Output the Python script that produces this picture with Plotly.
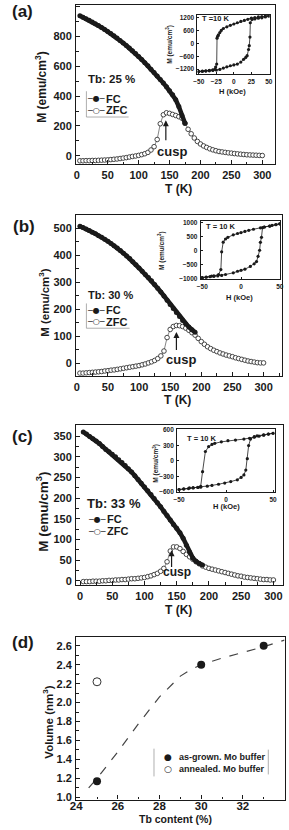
import plotly.graph_objects as go

# ---------------- data ----------------
T_GRID = [5, 10, 15, 20, 25, 30, 35, 40, 45, 50, 55, 60, 65, 70, 75, 80, 85, 90, 95, 100,
          105, 110, 115, 120, 125, 130, 135, 140, 145, 150, 155, 160, 165, 170, 175, 180, 185, 190, 195, 200,
          205, 210, 215, 220, 225, 230, 235, 240, 245, 250, 255, 260, 265, 270, 275, 280, 285, 290, 295, 300]

# (a) Tb 25 %
FC_A = [935, 925, 915, 905, 893, 882, 870, 857, 844, 830, 816, 801, 786, 770, 754, 737, 720, 702, 683, 663,
        643, 622, 601, 579, 556, 533, 510, 486, 461, 435, 408, 375, 330, 270, 218]
ZFC_A = [-32, -32, -31, -31, -30, -30, -29, -28, -27, -26, -24, -22, -20, -17, -14, -11, -7, -3, 0, 4,
         9, 15, 24, 40, 62, 110, 215, 275, 288, 284, 277, 270, 262, 252, 218, 178, 148, 120, 97, 80,
         67, 57, 48, 41, 35, 30, 27, 24, 21, 19, 16, 14, 12, 10, 8, 7, 6, 5, 4, 3]
# (b) Tb 30 %
FC_B = [508, 503, 498, 492, 486, 480, 473, 467, 460, 452, 444, 436, 427, 418, 408, 398, 388, 376, 365, 353,
        341, 329, 318, 306, 292, 278, 264, 249, 233, 218, 203, 188, 173, 158, 145, 134, 124, 115]
ZFC_B = [-37, -37, -36, -35, -34, -33, -32, -31, -29, -28, -26, -25, -23, -21, -19, -17, -15, -13, -11, -9,
         -6, -3, 1, 5, 10, 17, 27, 45, 95, 125, 136, 140, 139, 136, 130, 122, 113, 104, 92, 80,
         70, 61, 54, 48, 43, 38, 34, 30, 27, 24, 20, 17, 14, 11, 8, 6, 4, 2, 1, 1]
# (c) Tb 33 %
FC_C = [360, 355, 349, 344, 338, 332, 325, 318, 312, 306, 300, 293, 286, 279, 271, 263, 254, 245, 236, 227,
        218, 209, 199, 189, 179, 168, 158, 147, 136, 127, 116, 103, 86, 69, 55, 47, 42, 38]
ZFC_C = [-2, -2, -2, -1, -1, -1, 0, 0, 1, 1, 2, 2, 3, 3, 4, 5, 5, 6, 7, 8,
         10, 12, 15, 18, 23, 30, 46, 72, 82, 82, 78, 71, 64, 58, 52, 46, 41, 36, 33, 30,
         28, 26, 24, 22, 20, 18, 16, 14, 12, 11, 9, 8, 7, 6, 5, 4, 3, 3, 2, 2]

# hysteresis loops at 10 K (H in kOe, M in emu/cm3)
HA_DOWN = [50, 45, 40, 35, 30, 25, 20, 15, 10, 5, 0, -5, -10, -15, -18, -20, -22, -23, -24, -24.5, -26, -27, -30, -35, -40, -45, -50]
MA_DOWN = [1290, 1275, 1260, 1240, 1215, 1185, 1130, 1080, 1030, 970, 910, 850, 780, 700, 610, 510, 400, 340, 250, -960, -1100, -1200, -1230, -1255, -1275, -1295, -1310]
HA_UP = [-50, -45, -40, -35, -30, -25, -20, -15, -10, -5, 0, 5, 10, 14, 17, 19, 21, 22, 23, 23.5, 26, 30, 35, 40, 45, 50]
MA_UP = [-1310, -1300, -1290, -1275, -1260, -1240, -1210, -1150, -1090, -1040, -1000, -960, -870, -740, -650, -570, -280, -100, 300, 970, 1120, 1150, 1180, 1200, 1240, 1285]

HB_DOWN = [50, 45, 40, 37, 30, 25, 16, 10, 5, 0, -4.5, -10, -17, -20, -23, -25, -26, -29, -35, -38, -45, -50]
MB_DOWN = [965, 940, 905, 884, 850, 820, 769, 730, 690, 650, 618, 570, 480, 420, 306, -40, -676, -850, -900, -908, -940, -965]
HB_UP = [-50, -45, -40, -35, -30, -25, -20, -10, -4.5, 0, 5, 12, 17, 20, 22, 24, 25, 26.4, 27.7, 30, 37, 45, 50]
MB_UP = [-965, -950, -930, -915, -900, -884, -850, -790, -734, -700, -660, -560, -470, -387, -200, 18, 300, 480, 826, 850, 884, 930, 965]

HC_DOWN = [50, 45, 40, 35, 30, 25, 19, 10, 2, -5, -12, -15, -18.5, -22, -25, -27, -30, -35, -39, -45, -50]
MC_DOWN = [537, 520, 499, 480, 460, 440, 423, 405, 392, 370, 341, 320, 278, 183, -208, -493, -510, -518, -524, -540, -556]
HC_UP = [-50, -45, -40, -35, -30, -27, -20, -15, -8, -1.4, 5, 12, 16, 19, 21, 22.6, 24, 26, 30, 33, 40, 45, 50]
MC_UP = [-556, -545, -535, -525, -515, -510, -490, -474, -452, -430, -400, -366, -320, -272, -177, 44, 297, 423, 470, 486, 505, 520, 537]

# (d) activation volume
TB_ASGROWN = [25, 30, 33]
VOL_ASGROWN = [1.17, 2.40, 2.60]
TB_ANNEALED = [25]
VOL_ANNEALED = [2.22]
GUIDE_TB = [24.6, 25.0, 26.0, 27.0, 28.0, 29.0, 29.5, 30.0, 31.0, 32.0, 33.0, 34.0]
GUIDE_VOL = [1.10, 1.20, 1.48, 1.78, 2.06, 2.28, 2.35, 2.40, 2.47, 2.53, 2.59, 2.66]

# ---------------- layout helpers ----------------
W, H = 289, 830
def px(x):
    return x / W
def py(y):
    return 1 - y / H

FONT = "Liberation Sans, Arial, sans-serif"
INK = "#1a1a1a"

fig = go.Figure()

def add_main(xa, ya, fc, zfc):
    fig.add_trace(go.Scatter(
        x=T_GRID[:len(zfc)], y=zfc, xaxis=xa, yaxis=ya, mode="lines+markers",
        line=dict(color="#666", width=0.8),
        marker=dict(symbol="circle", size=4.6, color="white", line=dict(color="#333", width=0.9)),
        showlegend=False, name="ZFC"))
    fig.add_trace(go.Scatter(
        x=T_GRID[:len(fc)], y=fc, xaxis=xa, yaxis=ya, mode="lines+markers",
        line=dict(color=INK, width=4.5), marker=dict(size=5, color=INK),
        showlegend=False, name="FC"))

def add_loop(xa, ya, hd, md, hu, mu):
    for hx, my in ((hd, md), (hu, mu)):
        fig.add_trace(go.Scatter(
            x=hx, y=my, xaxis=xa, yaxis=ya, mode="lines+markers",
            line=dict(color=INK, width=0.8), marker=dict(size=3.2, color=INK),
            showlegend=False))

add_main("x", "y", FC_A, ZFC_A)
add_loop("x2", "y2", HA_DOWN, MA_DOWN, HA_UP, MA_UP)
add_main("x3", "y3", FC_B, ZFC_B)
add_loop("x4", "y4", HB_DOWN, MB_DOWN, HB_UP, MB_UP)
add_main("x5", "y5", FC_C, ZFC_C)
add_loop("x6", "y6", HC_DOWN, MC_DOWN, HC_UP, MC_UP)

fig.add_trace(go.Scatter(x=GUIDE_TB, y=GUIDE_VOL, xaxis="x7", yaxis="y7", mode="lines",
                         line=dict(color="#444", width=1.2, dash="dash"), showlegend=False))
fig.add_trace(go.Scatter(x=TB_ASGROWN, y=VOL_ASGROWN, xaxis="x7", yaxis="y7", mode="markers",
                         marker=dict(size=8, color=INK), showlegend=False, name="as-grown. Mo buffer"))
fig.add_trace(go.Scatter(x=TB_ANNEALED, y=VOL_ANNEALED, xaxis="x7", yaxis="y7", mode="markers",
                         marker=dict(size=8, color="white", line=dict(color="#333", width=1)),
                         showlegend=False, name="annealed. Mo buffer"))


def ax(dom, rng, dtick, tick0, minor_dtick, fsize, anchor, ticklen=4, lw=1.3, fmt=None, standoff=1):
    d = dict(domain=dom, range=rng, dtick=dtick, tick0=tick0, anchor=anchor, showline=True,
             linecolor=INK, linewidth=lw, mirror=True, ticks="inside", ticklen=ticklen,
             tickwidth=1, tickcolor=INK, showgrid=False, zeroline=False,
             ticklabelstandoff=standoff,
             tickfont=dict(family=FONT, size=fsize, color=INK, weight="bold"))
    if minor_dtick:
        d["minor"] = dict(dtick=minor_dtick, ticks="inside", ticklen=ticklen * 0.55,
                          tickcolor=INK, showgrid=False)
    if fmt:
        d["tickformat"] = fmt
    return d

fig.update_layout(
    width=W, height=H, autosize=False, margin=dict(l=0, r=0, t=0, b=0),
    paper_bgcolor="white", plot_bgcolor="white", showlegend=False,
    font=dict(family=FONT, color=INK),
    # (a)
    xaxis=ax([px(72.7), px(278.3)], [-1, 320], 50, 0, 25, 11, "y"),
    yaxis=ax([py(162.3), py(2)], [-53, 1007], 200, 0, 100, 11, "x"),
    xaxis2=ax([px(198.3), px(273)], [-52, 51], 25, 0, None, 6.5, "y2", ticklen=2, lw=1),
    yaxis2=ax([py(71.7), py(11.7)], [-1430, 1350], 600, 0, None, 6.5, "x2", ticklen=2, lw=1),
    # (b)
    xaxis3=ax([px(72.7), px(285.5)], [-1, 329], 50, 0, 25, 11, "y3"),
    yaxis3=ax([py(376), py(214)], [-47, 549], 100, 0, 50, 11, "x3"),
    xaxis4=ax([px(201.7), px(284)], [-52, 50.5], 50, 0, None, 6.5, "y4", ticklen=2, lw=1),
    yaxis4=ax([py(278.3), py(220)], [-1010, 1060], 500, 0, None, 6.5, "x4", ticklen=2, lw=1),
    # (c)
    xaxis5=ax([px(72.7), px(287)], [-6, 315], 50, 0, 25, 11, "y5"),
    yaxis5=ax([py(586.7), py(426)], [-9.6, 376], 50, 0, 25, 11, "x5"),
    xaxis6=ax([px(177.3), px(278.3)], [-52, 51.7], 50, 0, None, 6.5, "y6", ticklen=2, lw=1),
    yaxis6=ax([py(493.3), py(430)], [-605, 612], 300, 0, None, 6.5, "x6", ticklen=2, lw=1),
    # (d)
    xaxis7=ax([px(72.7), px(288.5)], [24, 34], 2, 24, 1, 11.5, "y7", standoff=-4),
    yaxis7=ax([py(803.3), py(639.3)], [0.976, 2.694], 0.2, 1.0, 0.1, 11, "x7", fmt=".1f"),
)

ann = []
def text(t, x, y, size, angle=0, xanchor="center", bold=True, family=FONT):
    ann.append(dict(text=t, x=px(x), y=py(y), xref="paper", yref="paper", showarrow=False,
                    xanchor=xanchor, yanchor="middle", textangle=angle,
                    font=dict(family=family, size=size, color=INK, weight="bold" if bold else "normal")))

# panel labels
text("(a)", 16.7, 8.3, 17)
text("(b)", 18.3, 225, 17)
text("(c)", 16.7, 436.7, 17)
text("(d)", 17.3, 645, 17)
# axis titles
text("M (emu/cm<sup>3</sup>)", 36.7, 85, 12, -90)
text("M (emu/cm<sup>3</sup>)", 40, 301.7, 11.5, -90)
text("M (emu/cm<sup>3</sup>)", 37.3, 513, 13.5, -90)
text("Volume (nm<sup>3</sup>)", 43.3, 725, 11.5, -90)
text("T (K)", 178.3, 188, 12)
text("T (K)", 178, 400, 12)
text("T (K)", 178.3, 611.7, 12)
text("Tb content (%)", 175.5, 822.5, 10.5)
# composition labels
text("Tb: 25 %", 83, 76.7, 11.5, xanchor="left")
text("Tb: 30 %", 83, 294, 11, xanchor="left")
text("Tb: 33 %", 82, 504.3, 13, xanchor="left")
# cusp labels
text("cusp", 171.7, 150, 13)
text("cusp", 181.7, 359.5, 13)
text("cusp", 177.5, 574, 12)
# legends
SYMF = "DejaVu Sans, sans-serif"
for yfc, yzfc, xs, xt in ((96.7, 108.3, 93, 101.5), (310, 321.7, 93, 101.5), (520.7, 532.7, 94.5, 103)):
    text("─●─", xs, yfc, 8, family=SYMF, bold=False)
    text("─○─", xs, yzfc, 8, family=SYMF, bold=False)
    text("FC", xt, yfc, 11, xanchor="left")
    text("ZFC", xt, yzfc, 11, xanchor="left")
text("●", 167.7, 760, 9, family=SYMF, bold=False)
text("○", 167.7, 772.3, 9, family=SYMF, bold=False)
text("as-grown. Mo buffer", 176.7, 760, 9, xanchor="left")
text("annealed. Mo buffer", 176.7, 772.3, 9, xanchor="left")
# inset labels
text("T =10 K", 201, 15.7, 7.5, xanchor="left")
text("T = 10 K", 205, 225, 7.5, xanchor="left")
text("T = 10 K", 185, 439, 7.5, xanchor="left")
text("M (emu/cm<sup>3</sup>)", 170, 42, 6.5, -90)
text("M (emu/cm<sup>3</sup>)", 161.7, 250, 6.5, -90)
text("M (emu/cm<sup>3</sup>)", 155, 464, 6.5, -90)
text("H (kOe)", 235, 89.3, 7.5)
text("H (kOe)", 241.7, 296.7, 7.5)
text("H (kOe)", 228, 508, 7.5)

# cusp arrows (data coordinates)
for xr, yr, tx, head, tail in (("x", "y", 144, 238, 95), ("x3", "y3", 160, 116, 43), ("x5", "y5", 142, 74, 30)):
    ann.append(dict(x=tx, y=head, ax=tx, ay=tail, xref=xr, yref=yr, axref=xr, ayref=yr,
                    text="", showarrow=True, arrowhead=2, arrowsize=1, arrowwidth=1.2,
                    arrowcolor=INK))

fig.update_layout(annotations=ann)

# faint legend frames
shapes = []
def seg(x0, y0, x1, y1):
    shapes.append(dict(type="line", xref="paper", yref="paper", x0=px(x0), y0=py(y0),
                       x1=px(x1), y1=py(y1), line=dict(color="#9a9a9a", width=0.8)))
seg(83.3, 89, 83.3, 115); seg(83.3, 115, 127, 115)
seg(83.3, 303, 83.3, 328); seg(83.3, 328, 128, 328)
seg(153.3, 752, 153.3, 780); seg(271.7, 753, 271.7, 778)
fig.update_layout(shapes=shapes)

fig.write_html("out.html")
